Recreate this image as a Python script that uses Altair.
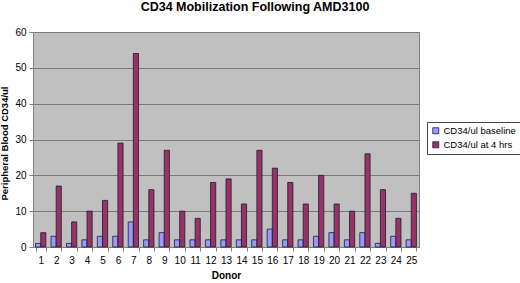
import altair as alt
import pandas as pd

donors = [str(i) for i in range(1, 26)]
baseline = [1, 3, 1, 2, 3, 3, 7, 2, 4, 2, 2, 2, 2, 2, 2, 5, 2, 2, 3, 4, 2, 4, 1, 3, 2]
four_hrs = [4, 17, 7, 10, 13, 29, 54, 16, 27, 10, 8, 18, 19, 12, 27, 22, 18, 12, 20, 12, 10, 26, 16, 8, 15]
series = ["CD34/ul baseline", "CD34/ul at 4 hrs"]
colors = ["#9999FF", "#993366"]

rows = []
for d, b, f in zip(donors, baseline, four_hrs):
    rows.append({"Donor": d, "Series": series[0], "Value": b})
    rows.append({"Donor": d, "Series": series[1], "Value": f})
df = pd.DataFrame(rows)

FONT = "Liberation Sans"

chart = alt.Chart(df).mark_bar(stroke="#1a1a33", strokeWidth=0.8).encode(
    x=alt.X("Donor:N", sort=donors,
            scale=alt.Scale(paddingInner=0.333, paddingOuter=0.1667),
            axis=alt.Axis(title="Donor", labelAngle=0, tickBand="extent", tickSize=4,
                          tickColor="#808080", domainColor="#808080", grid=False,
                          labelPadding=4, titlePadding=5)),
    xOffset=alt.XOffset("Series:N", sort=series),
    y=alt.Y("Value:Q", scale=alt.Scale(domain=[0, 60], nice=False),
            axis=alt.Axis(title="Peripheral Blood CD34/ul", values=[0, 10, 20, 30, 40, 50, 60],
                          tickSize=4, tickColor="#808080", domain=False,
                          gridColor="#7a7a7a", gridWidth=1, labelPadding=3, titlePadding=5,
                          titleFontSize=9.5, titleY=111)),
    color=alt.Color("Series:N", sort=series,
                    scale=alt.Scale(domain=series, range=colors),
                    legend=alt.Legend(title=None, orient="none", legendX=394, legendY=90,
                                      symbolType="square", symbolSize=36,
                                      symbolStrokeColor="#1a1a33", symbolStrokeWidth=0.8,
                                      labelFontSize=9.5, labelFont=FONT, labelColor="#000",
                                      strokeColor="#444", fillColor="white", padding=4,
                                      rowPadding=3, labelOffset=3, symbolOffset=0)),
).properties(
    width=386, height=215,
    title=alt.TitleParams("CD34 Mobilization Following AMD3100", anchor="middle",
                          dx=29, fontSize=12.5, font=FONT, fontWeight="bold", offset=14, color="#000"),
    autosize=alt.AutoSizeParams(type="none"),
    padding={"left": 33, "top": 32, "right": 101, "bottom": 36},
).configure_view(
    fill="#C0C0C0", stroke="#808080", strokeWidth=1
).configure_axis(
    labelFont=FONT, titleFont=FONT, labelFontSize=10, titleFontSize=10,
    titleFontWeight="bold", labelColor="#000", titleColor="#000"
)

chart.save("out.html", embed_options={"renderer": "svg", "actions": False})
